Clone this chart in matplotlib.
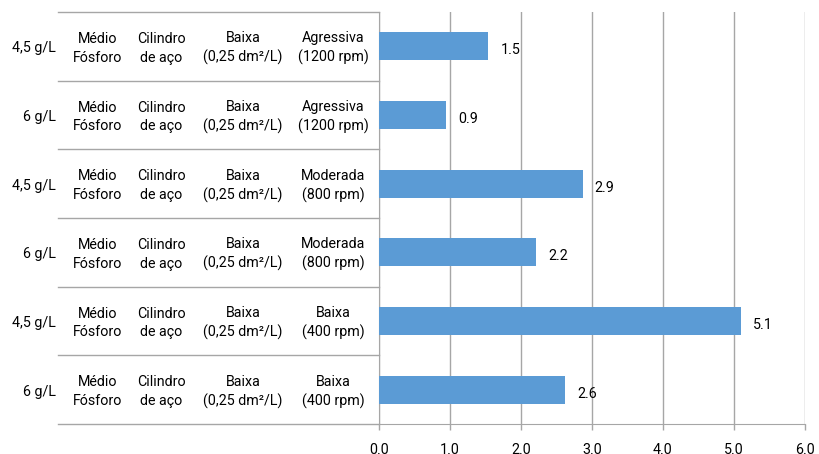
import matplotlib
matplotlib.use('Agg')
import matplotlib.pyplot as plt
from matplotlib.lines import Line2D

plt.rcParams['font.family'] = ['Roboto', 'DejaVu Sans']

# data (top to bottom)
concentracao = ['4,5 g/L', '6 g/L', '4,5 g/L', '6 g/L', '4,5 g/L', '6 g/L']
fosfato = ['Médio\nFósforo'] * 6
substrato = ['Cilindro\nde aço'] * 6
carga = ['Baixa\n(0,25 dm²/L)'] * 6
agitacao = ['Agressiva\n(1200 rpm)', 'Agressiva\n(1200 rpm)',
            'Moderada\n(800 rpm)', 'Moderada\n(800 rpm)',
            'Baixa\n(400 rpm)', 'Baixa\n(400 rpm)']
valores = [1.54, 0.94, 2.87, 2.21, 5.10, 2.62]
xticks = [0, 1, 2, 3, 4, 5, 6]

W, H = 820, 454
x0, x1 = 379, 805      # plot area left/right in pixels
ytop, ybot = 12, 424   # plot area top/bottom in pixels
fig = plt.figure(figsize=(W / 100, H / 100), dpi=100)
ax = fig.add_axes([x0 / W, (H - ybot) / H, (x1 - x0) / W, (ybot - ytop) / H])

n = len(valores)
pos = list(range(n))
ax.barh(pos, valores, height=0.41, color='#5B9BD5', zorder=3)
ax.set_ylim(n - 0.5, -0.5)
ax.set_xlim(0, 6)

# value labels
for y, v in zip(pos, valores):
    ax.text(v + 0.17, y + 0.06, f'{v:.1f}', va='center', ha='left', fontsize=10.3, color='#000000')

# grid and axes
ax.set_xticks(xticks)
ax.set_xticklabels([f'{t:.1f}' for t in xticks], fontsize=10.3)
ax.xaxis.grid(True, color='#A6A6A6', linewidth=1, zorder=0)
ax.tick_params(axis='x', length=4, width=1, color='#A6A6A6', pad=10, direction='out')
ax.tick_params(axis='y', left=False, labelleft=False)
for s in ['top', 'right']:
    ax.spines[s].set_visible(False)
ax.spines['left'].set_color('#A6A6A6')
ax.spines['bottom'].set_color('#A6A6A6')

# category labels and row separators, placed in figure pixel space
row_h = (ybot - ytop) / n
cols = [(98, fosfato), (161, substrato), (243, carga), (333, agitacao)]
for i in pos:
    yc = H - (ytop + (i + 0.5) * row_h) - 2
    fig.text(56 / W, yc / H, concentracao[i], ha='right', va='center', fontsize=10.3)
    for px, lab in cols:
        fig.text(px / W, yc / H, lab[i], ha='center', va='center',
                 fontsize=10.3, linespacing=1.4)

for b in range(n + 1):
    yb = (H - (ytop + b * row_h)) / H
    fig.add_artist(Line2D([58 / W, x0 / W], [yb, yb], color='#A6A6A6', linewidth=1))

fig.savefig('out.png', dpi=100)
